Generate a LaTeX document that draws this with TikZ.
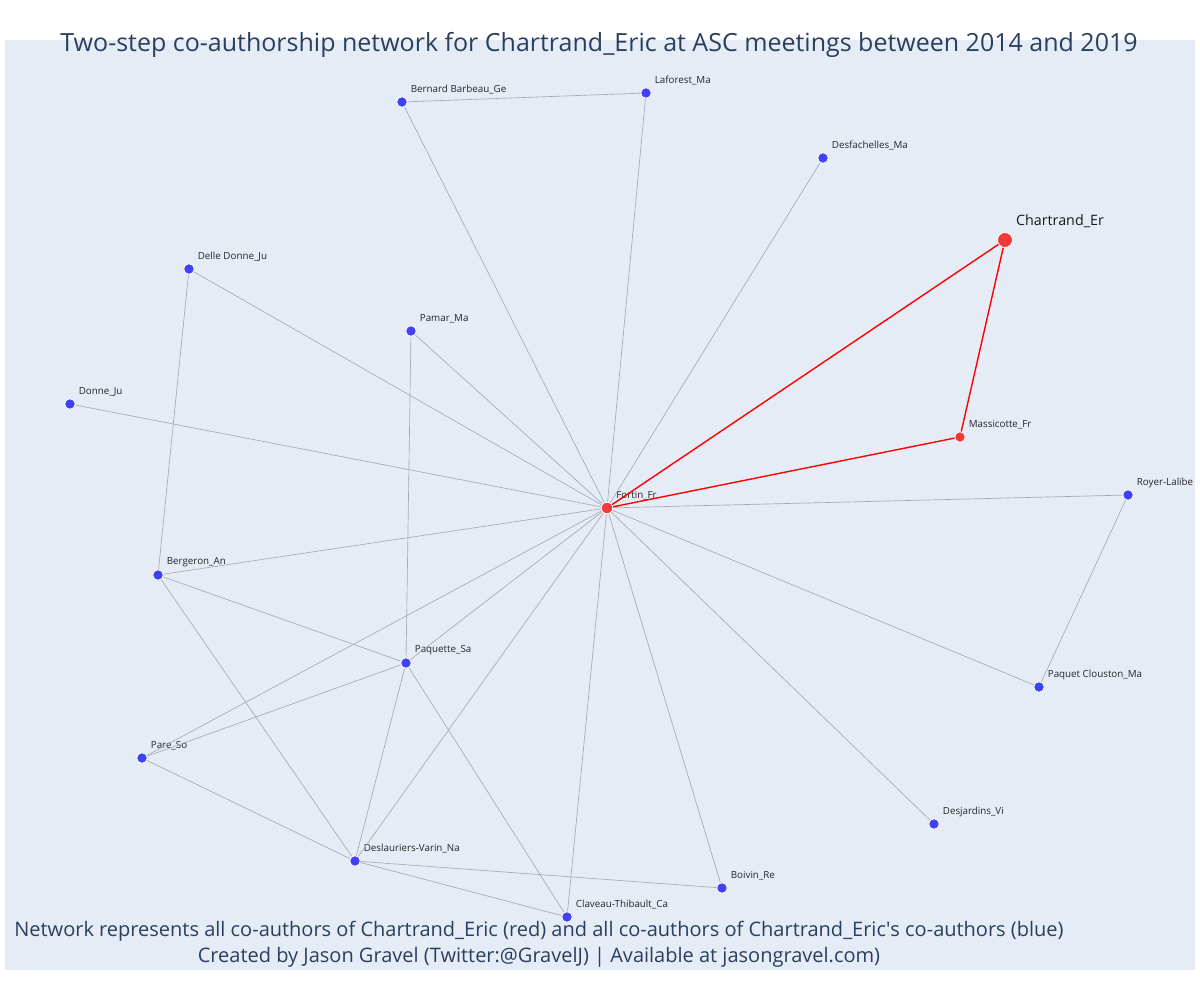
\documentclass[tikz,border=0pt]{standalone}
\usepackage{fontspec}
\setmainfont{Open Sans}
\definecolor{plotbg}{HTML}{E5ECF6}
\definecolor{titlecol}{HTML}{2A3F5F}
\definecolor{nodeblue}{RGB}{64,64,245}
\definecolor{nodered}{RGB}{242,58,58}
\definecolor{edgegray}{RGB}{168,168,182}
\begin{document}
\begin{tikzpicture}[x=1pt,y=-1pt]
  \tikzstyle{vertex}=[circle,fill=nodeblue,draw=white,line width=0.8pt,minimum size=10.5pt,inner sep=0pt]
  \tikzstyle{hub}=[vertex,fill=nodered]
  \tikzstyle{edge} = [draw,line width=0.65pt,edgegray]
  \tikzstyle{redge} = [draw,line width=1.4pt,red]
  \tikzset{lab/.style={label={[font=\fontsize{9.8}{10}\selectfont,text=black!85,anchor=west,inner sep=0pt,xshift=3pt,yshift=12.5pt]east:#1}}}

    \useasboundingbox (0,0) rectangle (1200,1000);
    \fill[plotbg] (5,40) rectangle (1195,970);

    \node[font=\fontsize{25}{28}\selectfont,text=titlecol] (title) at (599,45) {Two-step co-authorship network for Chartrand\_Eric at ASC meetings between 2014 and 2019};

    \node[vertex,lab={Bernard Barbeau\_Ge}] (0) at (402,102) {};
    \node[vertex,lab={Laforest\_Ma}] (1) at (646,93) {};
    \node[vertex,lab={Desfachelles\_Ma}] (2) at (823,158) {};
    \node[hub,minimum size=15pt,label={[font=\fontsize{14.3}{16}\selectfont,text=black!90,anchor=west,inner sep=0pt,xshift=3pt,yshift=19pt]east:Chartrand\_Er}] (3) at (1005,240) {};
    \node[vertex,lab={Delle Donne\_Ju}] (4) at (189,269) {};
    \node[vertex,lab={Pamar\_Ma}] (5) at (411,331) {};
    \node[vertex,lab={Donne\_Ju}] (6) at (70,404) {};
    \node[hub,lab={Massicotte\_Fr}] (7) at (960,437) {};
    \node[hub,minimum size=11.5pt,lab={Fortin\_Fr}] (8) at (607,508) {};
    \node[vertex,lab={Royer-Lalibe}] (9) at (1128,495) {};
    \node[vertex,lab={Bergeron\_An}] (10) at (158,575) {};
    \node[vertex,lab={Paquette\_Sa}] (11) at (406,663) {};
    \node[vertex,lab={Paquet Clouston\_Ma}] (12) at (1039,687) {};
    \node[vertex,lab={Pare\_So}] (13) at (142,758) {};
    \node[vertex,lab={Desjardins\_Vi}] (14) at (934,824) {};
    \node[vertex,lab={Deslauriers-Varin\_Na}] (15) at (355,861) {};
    \node[vertex,lab={Boivin\_Re}] (16) at (722,888) {};
    \node[vertex,lab={Claveau-Thibault\_Ca}] (17) at (567,917) {};

    \path[edge] (0) -- (1);
    \path[edge] (0) -- (8);
    \path[edge] (1) -- (8);
    \path[edge] (2) -- (8);
    \path[edge] (4) -- (8);
    \path[edge] (4) -- (10);
    \path[edge] (5) -- (8);
    \path[edge] (5) -- (11);
    \path[edge] (6) -- (8);
    \path[edge] (10) -- (8);
    \path[edge] (10) -- (11);
    \path[edge] (10) -- (15);
    \path[edge] (11) -- (8);
    \path[edge] (11) -- (13);
    \path[edge] (11) -- (15);
    \path[edge] (11) -- (17);
    \path[edge] (13) -- (8);
    \path[edge] (13) -- (15);
    \path[edge] (15) -- (8);
    \path[edge] (15) -- (16);
    \path[edge] (15) -- (17);
    \path[edge] (17) -- (8);
    \path[edge] (16) -- (8);
    \path[edge] (14) -- (8);
    \path[edge] (12) -- (8);
    \path[edge] (12) -- (9);
    \path[edge] (9) -- (8);

    \path[redge] (3) -- (8);
    \path[redge] (3) -- (7);
    \path[redge] (7) -- (8);

    \node[font=\fontsize{20}{26}\selectfont,text=titlecol,align=center] (note) at (539,944) {Network represents all co-authors of Chartrand\_Eric (red) and all co-authors of Chartrand\_Eric\textquotesingle s co-authors (blue)\\Created by Jason Gravel (Twitter:@GravelJ) | Available at jasongravel.com)};
\end{tikzpicture}
\end{document}
